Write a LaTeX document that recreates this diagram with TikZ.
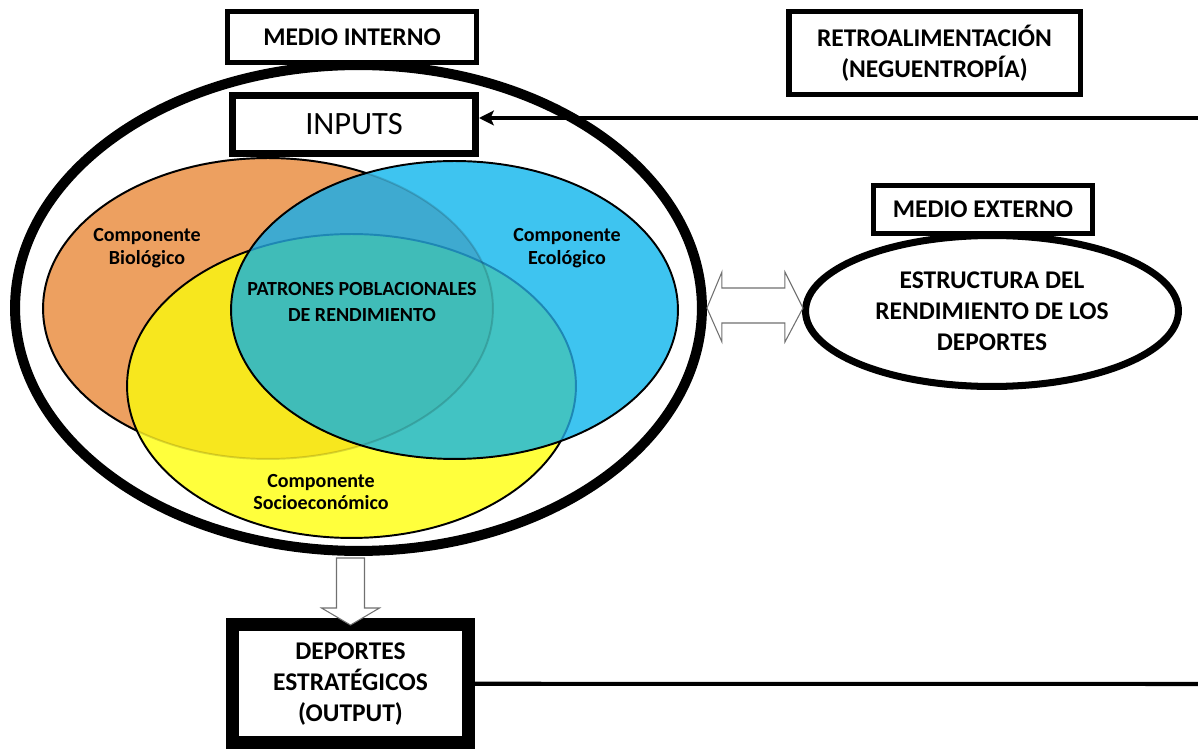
\documentclass[tikz,border=0pt]{standalone}
\usepackage{fontspec}
\setmainfont{Carlito}
\usepackage{xcolor}
\usepackage{tikz}
\usetikzlibrary{shapes.geometric, arrows.meta, calc}
\definecolor{naranja}{HTML}{EDA060}
\definecolor{amarillo}{HTML}{FFFF3C}
\definecolor{azul}{HTML}{3EC4F0}
\definecolor{mixOA}{HTML}{F7E71E}
\definecolor{mixOB}{HTML}{3EAAD0}
\definecolor{mixAB}{HTML}{42C3C3}
\definecolor{mixOAB}{HTML}{40BCB8}
\definecolor{bordeazul}{HTML}{1E87B4}
\definecolor{grisflecha}{HTML}{707070}

\tikzset{
  caja/.style={draw, rectangle, fill=white, align=center, inner sep=0pt,
    font=\bfseries\fontsize{14.5}{17.6}\selectfont},
  componente/.style={align=center, font=\bfseries\fontsize{11.4}{13}\selectfont},
  borde/.style={draw=black, line width=1.1pt},
  hueca/.style={draw=grisflecha, fill=white, line width=0.6pt},
  radBio/.style={x radius=4.5cm, y radius=3.01cm},
  radSoc/.style={x radius=4.49cm, y radius=3.04cm},
  radEco/.style={x radius=4.47cm, y radius=2.98cm}
}

\begin{document}
\begin{tikzpicture}[x=0.02cm, y=-0.02cm]
            \useasboundingbox (0,0) rectangle (1198,749);
            \node (sistema) at (358.5, 308) [draw, ellipse, line width=5.7pt, minimum width=13.74cm, minimum height=9.72cm, inner sep=0pt] {};
            \coordinate (cBio) at (268, 308.5);
            \coordinate (cSoc) at (351.5, 386);
            \coordinate (cEco) at (454.5, 310);
            \fill [naranja] (cBio) ellipse [radBio];
            \draw [borde] (cBio) ellipse [radBio];
            \fill [amarillo] (cSoc) ellipse [radSoc];
            \begin{scope}
              \clip (cBio) ellipse [radBio];
              \fill [mixOA] (cSoc) ellipse [radSoc];
            \end{scope}
            \draw [borde] (cSoc) ellipse [radSoc];
            \fill [azul] (cEco) ellipse [radEco];
            \begin{scope}
              \clip (cBio) ellipse [radBio];
              \fill [mixOB] (cEco) ellipse [radEco];
            \end{scope}
            \begin{scope}
              \clip (cSoc) ellipse [radSoc];
              \fill [mixAB] (cEco) ellipse [radEco];
              \clip (cBio) ellipse [radBio];
              \fill [mixOAB] (cEco) ellipse [radEco];
            \end{scope}
            \begin{scope}
              \clip (cEco) ellipse [radEco];
              \draw [borde, draw=bordeazul] (cSoc) ellipse [radSoc];
            \end{scope}
            \draw [borde, draw opacity=.15] (cBio) ellipse [radBio];
            \draw [borde] (cEco) ellipse [radEco];
            \node (bio) at (147, 248) [componente] {Componente\\Biológico};
            \node (eco) at (567, 248) [componente] {Componente\\Ecológico};
            \node (patrones) at (362, 302) [componente, font=\bfseries\fontsize{11.4}{15.3}\selectfont] {PATRONES POBLACIONALES\\DE RENDIMIENTO};
            \node (soc) at (321, 492) [componente] {Componente\\Socioeconómico};
            \node (medioint) at (352, 37) [caja, line width=2.8pt, minimum width=4.98cm, minimum height=1.02cm] {MEDIO INTERNO};
            \node (inputs) at (354, 124.5) [caja, line width=4pt, minimum width=4.86cm, minimum height=1.16cm, font=\fontsize{18.5}{22}\selectfont] {INPUTS};
            \node (retro) at (934.5, 53) [caja, line width=3.1pt, minimum width=5.83cm, minimum height=1.65cm] {RETROALIMENTACIÓN\\(NEGUENTROPÍA)};
            \node (medioext) at (983, 209.5) [caja, line width=3pt, minimum width=4.38cm, minimum height=0.96cm] {MEDIO EXTERNO};
            \node (estructura) at (992, 311) [caja, ellipse, line width=4pt, minimum width=7.46cm, minimum height=3.02cm] {ESTRUCTURA DEL\\RENDIMIENTO DE LOS\\DEPORTES};
            \node (deportes) at (350.5, 683.75) [caja, line width=7.4pt, minimum width=4.72cm, minimum height=2.37cm] {DEPORTES\\ESTRATÉGICOS\\(OUTPUT)};
            \coordinate (retorno) at (1198, 118);
            \coordinate (salida) at (1198, 684);
            \draw [line width=2.3pt, -{Stealth[length=8.5pt, width=8.5pt, inset=2pt]}] (retorno) -- (retorno -| inputs.east);
            \draw [line width=2.3pt] (deportes.east) -- (salida);
            \draw [hueca] (sistema.east) -- ++(15,-36) -- ++(0,16) -- ++(63,0) -- ++(0,-16) -- ++(18,36) -- ++(-18,34) -- ++(0,-19) -- ++(-63,0) -- ++(0,19) -- cycle;
            \draw [hueca] ($(deportes.north)+(0,7)$) -- ++(-29,-17) -- ++(15,0) -- ++(0,-50) -- ++(28,0) -- ++(0,50) -- ++(15,0) -- cycle;
        \end{tikzpicture}
\end{document}
